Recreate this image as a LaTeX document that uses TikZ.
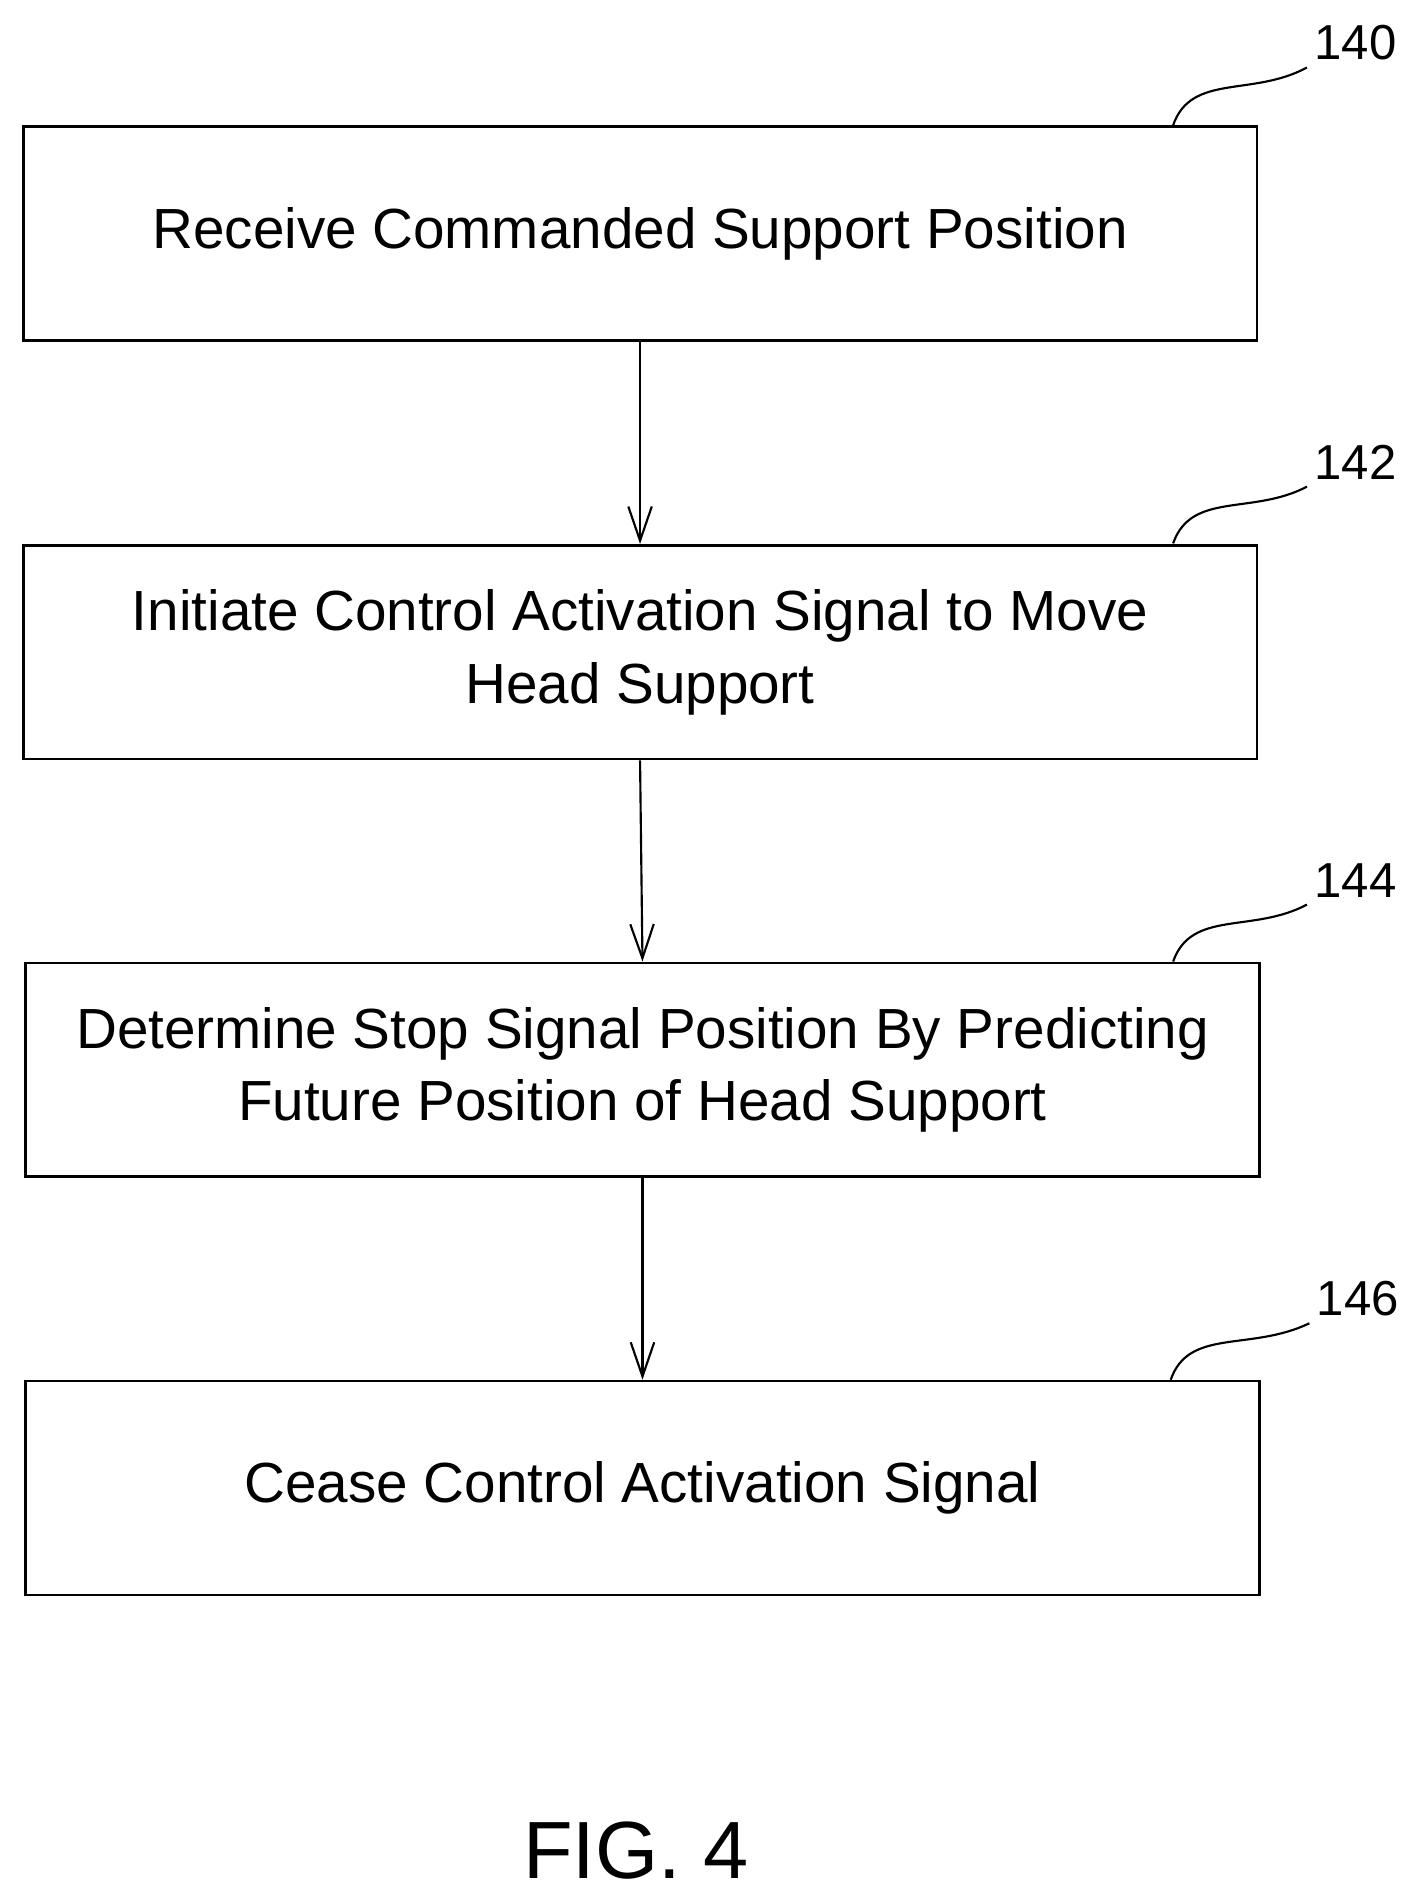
\documentclass[tikz,border=0pt]{standalone}
\usepackage{fontspec}
\setmainfont{Liberation Sans}
\usetikzlibrary{arrows.meta}
\begin{document}
\begin{tikzpicture}[x=0.02cm,y=-0.02cm,
  stepbox/.style={draw,line width=1.2pt,minimum width=20.3cm,minimum height=3.52cm,
    align=center,font=\fontsize{26.5}{34}\selectfont,inner sep=0pt},
  flow/.style={-{Straight Barb[length=16pt,width=11pt,line width=1pt]},line width=1pt},
  ref/.style={font=\fontsize{23}{28}\selectfont}]
\useasboundingbox (0,0) rectangle (1165,1558);

  \node[stepbox] (receive) at (526.5,192) {Receive Commanded Support Position};
  \node[stepbox] (initiate) at (526.5,536.5) {Initiate Control Activation Signal to Move\\Head Support};
  \node[stepbox] (determine) at (528.5,880) {Determine Stop Signal Position By Predicting\\Future Position of Head Support};
  \node[stepbox] (cease) at (528.5,1224) {Cease Control Activation Signal};

\draw[flow] (receive.south) -- (initiate.north);
\draw[flow] (initiate.south) -- (determine.north);
\draw[flow] (determine.south) -- (cease.north);

% reference numerals
\node[ref] (r140) at (1115,35) {140};
\node[ref] (r142) at (1115,380) {142};
\node[ref] (r144) at (1115,724) {144};
\node[ref] (r146) at (1117,1068) {146};
\coordinate (c140) at (965,103);
\coordinate (c142) at (965,447);
\coordinate (c144) at (965,791);
\coordinate (c146) at (963,1135);
\draw[line width=1pt] (c140) .. controls (980,60) and (1030,80) .. (r140.south west);
\draw[line width=1pt] (c142) .. controls (980,404) and (1030,424) .. (r142.south west);
\draw[line width=1pt] (c144) .. controls (980,748) and (1030,768) .. (r144.south west);
\draw[line width=1pt] (c146) .. controls (978,1092) and (1028,1112) .. (r146.south west);

\node[font=\fontsize{38}{46}\selectfont] (fig) at (523,1522) {FIG. 4};
\end{tikzpicture}
\end{document}
